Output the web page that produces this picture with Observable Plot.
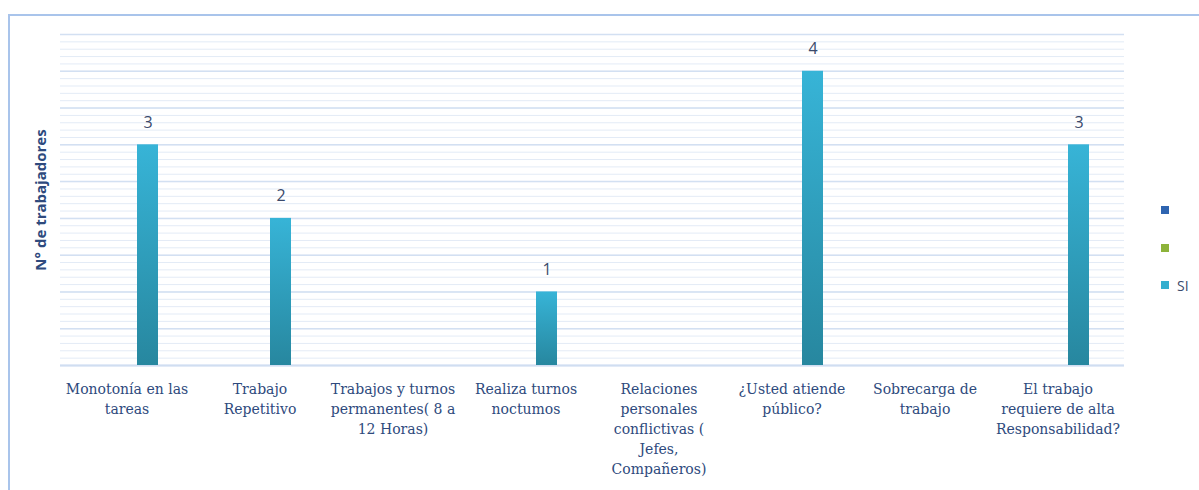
<!DOCTYPE html>
<html>
<head>
<meta charset="utf-8">
<script src="https://cdn.jsdelivr.net/npm/d3@7"></script>
<script src="https://cdn.jsdelivr.net/npm/@observablehq/plot@0.6"></script>
<style>
  html, body { margin: 0; padding: 0; background: #fff; }
  #wrap { position: relative; width: 1199px; height: 490px; overflow: hidden; }
  #border { position: absolute; left: 8px; top: 14px; width: 1220px; height: 520px;
            border: 2px solid #A9C4EB; box-sizing: border-box; }
  #chart { position: absolute; left: 0; top: 0; }
  #legend { position: absolute; left: 1161px; top: 200px; font-family: "Open Sans", sans-serif;
            font-size: 14px; color: #3A4A6B; }
  .li { position: absolute; left: 0; display: flex; align-items: center; white-space: nowrap; height: 20px; }
  .sw { width: 8px; height: 8px; margin-right: 8px; }
</style>
</head>
<body>
<div id="wrap">
  <div id="border"></div>
  <div id="chart"></div>
  <div id="legend"></div>
</div>
<script>
const categories = [
  "Monotonía en las tareas",
  "Trabajo Repetitivo",
  "Trabajos y turnos permanentes( 8 a 12 Horas)",
  "Realiza turnos noctumos",
  "Relaciones personales conflictivas ( Jefes, Compañeros)",
  "¿Usted atiende público?",
  "Sobrecarga de trabajo",
  "El trabajo requiere de alta Responsabilidad?"
];
const tickLabels = [
  "Monotonía en las\ntareas",
  "Trabajo\nRepetitivo",
  "Trabajos y turnos\npermanentes( 8 a\n12 Horas)",
  "Realiza turnos\nnoctumos",
  "Relaciones\npersonales\nconflictivas (\nJefes,\nCompañeros)",
  "¿Usted atiende\npúblico?",
  "Sobrecarga de\ntrabajo",
  "El trabajo\nrequiere de alta\nResponsabilidad?"
];
const seriesKeys = ["s1", "s2", "SI"];
const seriesLabels = ["", "", "SI"];
const seriesColors = ["#2E64B0", "#8DB33A", "#34AFCF"];
const siValues = [3, 2, null, 1, null, 4, null, 3];
const yTitle = "N° de trabajadores";

const data = categories.map((c, i) => ({cat: c, series: "SI", value: siValues[i]}));
const labelOf = new Map(categories.map((c, i) => [c, tickLabels[i]]));
const minorTicks = d3.range(0, 46).map(i => i / 10);
const majorTicks = d3.range(0, 10).map(i => i / 2);

const plot = Plot.plot({
  width: 1199,
  height: 490,
  marginLeft: 58,
  marginRight: 73,
  marginTop: 34,
  marginBottom: 125,
  style: {background: "transparent", overflow: "visible"},
  fx: {domain: categories, paddingInner: 0, paddingOuter: 0, axis: null},
  x: {domain: seriesKeys, paddingInner: 0, paddingOuter: 1.534, axis: null},
  y: {domain: [0, 4.5], axis: null},
  marks: [
    Plot.ruleY(minorTicks, {stroke: "#E3EBF6", strokeWidth: 1}),
    Plot.ruleY(majorTicks, {stroke: "#D3E0F2", strokeWidth: 1.5}),
    Plot.ruleY([0], {stroke: "#D0DEF1", strokeWidth: 2}),
    Plot.barY(data, {fx: "cat", x: "series", y: "value", fill: "url(#barGrad)", inset: 0,
      style: {filter: "drop-shadow(1px 1px 1.5px rgba(0,0,0,0.25))"}}),
    Plot.text(data, {filter: d => d.value != null, fx: "cat", x: "series", y: "value",
      text: d => String(d.value),
      lineAnchor: "bottom", dy: -17, fontSize: 16, fill: "#3A4A6B",
      fontFamily: "Open Sans, sans-serif"}),
    Plot.axisFx({anchor: "bottom", tickSize: 0, tickPadding: 14,
      tickFormat: d => labelOf.get(d), lineHeight: 1.43, fontSize: 14,
      fontFamily: "DejaVu Serif, serif", fill: "#2E4A7D", label: null}),
    Plot.axisY({ticks: [], tickSize: 0, label: yTitle, labelAnchor: "center", labelArrow: false,
      labelOffset: 25, fontSize: 15, fontWeight: "bold", fill: "#2E4A7D",
      fontFamily: "Open Sans, sans-serif"})
  ]
});

const ns = "http://www.w3.org/2000/svg";
const defs = document.createElementNS(ns, "defs");
defs.innerHTML = `<linearGradient id="barGrad" x1="0" y1="0" x2="0" y2="1">
  <stop offset="0" stop-color="#37B4D7"/><stop offset="1" stop-color="#27879F"/></linearGradient>`;
plot.insertBefore(defs, plot.firstChild);
document.getElementById("chart").appendChild(plot);

const leg = document.getElementById("legend");
seriesKeys.forEach((k, i) => {
  const item = document.createElement("div");
  item.className = "li";
  item.style.top = (i * 37.5) + "px";
  const sw = document.createElement("span");
  sw.className = "sw";
  sw.style.background = seriesColors[i];
  const t = document.createElement("span");
  t.textContent = seriesLabels[i];
  item.appendChild(sw); item.appendChild(t);
  leg.appendChild(item);
});
</script>
</body>
</html>
